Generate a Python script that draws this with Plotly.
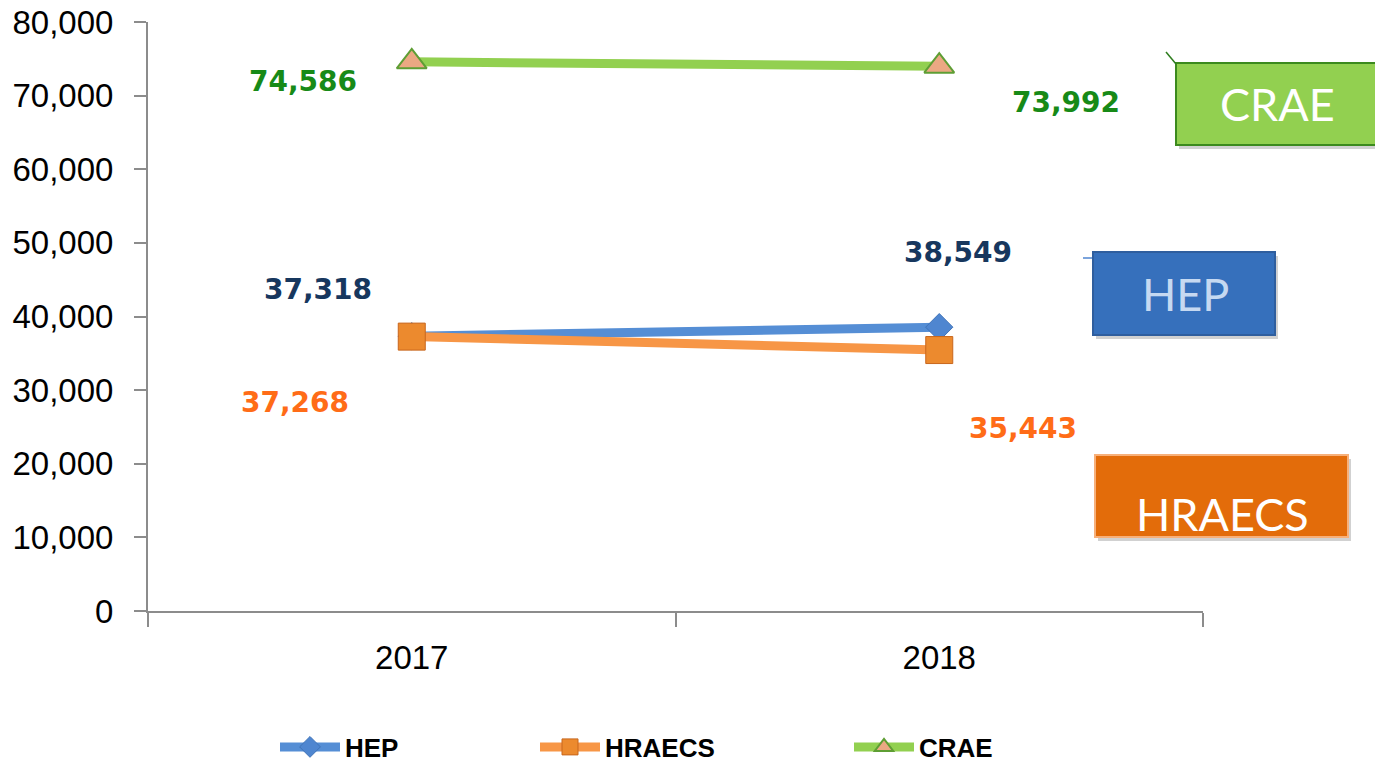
import plotly.graph_objects as go

years = ["2017", "2018"]
hep = [37318, 38549]
hraecs = [37268, 35443]
crae = [74586, 73992]

y_ticks = [0, 10000, 20000, 30000, 40000, 50000, 60000, 70000, 80000]

# the page body has an 8px margin, so shift everything up/left by that much
OFF = 8
L, R, T, B = 148 - OFF, 1203 - OFF, 22 - OFF, 611 - OFF
W, H = 1383, 764


def px(x):
    return (x - OFF - L) / (R - L)


def py(y):
    return (B - (y - OFF)) / (B - T)


fig = go.Figure()

fig.add_trace(go.Scatter(
    x=years, y=hep, name="HEP", mode="lines+markers",
    line=dict(color="#558ED5", width=9),
    marker=dict(symbol="diamond", size=21, color="#4F86D0",
                line=dict(color="#3F73B8", width=1)),
    legend="legend",
))
fig.add_trace(go.Scatter(
    x=years, y=hraecs, name="HRAECS", mode="lines+markers",
    line=dict(color="#F79646", width=9),
    marker=dict(symbol="square", size=27, color="#EC8A2E",
                line=dict(color="#C8661C", width=1)),
    legend="legend2",
))
fig.add_trace(go.Scatter(
    x=years, y=crae, name="CRAE", mode="lines+markers",
    line=dict(color="#92D050", width=9),
    marker=dict(symbol="triangle-up", size=26, color="#EBA883",
                line=dict(color="#5E9E34", width=2)),
    legend="legend3",
))

# data labels (placed like in the source slide)
labels = [
    (0, crae[0], -109, -20, "#178A17"),
    (1, crae[1], 127, -36, "#178A17"),
    (0, hep[0], -94, 47, "#17375E"),
    (1, hep[1], 19, 75, "#17375E"),
    (0, hraecs[0], -117, -66, "#FF6C17"),
    (1, hraecs[1], 84, -78, "#FF6C17"),
]
for xi, yv, dx, dy, col in labels:
    fig.add_annotation(
        x=xi, y=yv, xref="x", yref="y", text=f"{yv:,}", showarrow=False,
        xshift=dx, yshift=dy,
        font=dict(family="DejaVu Sans", size=28, color=col, weight="bold"),
    )

# name boxes at the right: box pixels, text centre, colours
boxes = [
    ("CRAE", (1176, 63, 1379, 145), (1277, 104), "#92D050", "#3C8A1E", "white"),
    ("HEP", (1093, 252, 1275, 335), (1185, 294), "#3670BC", "#2F5E9E", "#C6D9F1"),
    ("HRAECS", (1095, 455, 1348, 537), (1222, 514), "#E36C0A", "#F7B07A", "white"),
]
for txt, (x0, y0, x1, y1), (tx, ty), fill, border, tcol in boxes:
    fig.add_shape(type="rect", xref="paper", yref="paper",
                  x0=px(x0 + 3), x1=px(x1 + 3), y0=py(y1 + 4), y1=py(y0 + 4),
                  fillcolor="rgba(0,0,0,0.18)", line_width=0, layer="above")
    fig.add_shape(type="rect", xref="paper", yref="paper",
                  x0=px(x0), x1=px(x1), y0=py(y1), y1=py(y0),
                  fillcolor=fill, line=dict(color=border, width=2), layer="above")
    fig.add_annotation(
        xref="paper", yref="paper", x=px(tx), y=py(ty),
        xanchor="center", yanchor="middle", text=txt, showarrow=False,
        font=dict(family="Lato", size=45, color=tcol),
    )

# small leader lines
fig.add_shape(type="line", xref="paper", yref="paper",
              x0=px(1166), y0=py(52), x1=px(1176), y1=py(64),
              line=dict(color="#2E7D1E", width=1.5))
fig.add_shape(type="line", xref="paper", yref="paper",
              x0=px(1083), y0=py(258), x1=px(1092), y1=py(258),
              line=dict(color="#4F86D0", width=1.5))

leg_font = dict(family="Liberation Sans", size=26, color="black", weight="bold")
leg_common = dict(orientation="h", yanchor="middle", y=py(747), xanchor="left",
                  font=leg_font, bgcolor="rgba(0,0,0,0)", itemwidth=60)

tick_font = dict(family="Liberation Sans", size=33, color="black")

fig.update_layout(
    width=W, height=H,
    paper_bgcolor="white", plot_bgcolor="rgba(0,0,0,0)",
    margin=dict(l=L, r=W - R, t=T, b=H - B, autoexpand=False),
    showlegend=True,
    legend=dict(x=px(275), **leg_common),
    legend2=dict(x=px(535), **leg_common),
    legend3=dict(x=px(849), **leg_common),
    xaxis=dict(
        type="category", range=[-0.5, 1.5], tickson="boundaries",
        showline=True, linecolor="#8C8C8C", linewidth=2,
        ticks="outside", ticklen=14, tickcolor="#8C8C8C", tickwidth=1.5,
        showgrid=False, zeroline=False, automargin=False,
        tickfont=tick_font, ticklabelstandoff=16,
    ),
    yaxis=dict(
        range=[0, 80000], tickvals=y_ticks, tickformat=",d",
        showline=True, linecolor="#8C8C8C", linewidth=2,
        ticks="outside", ticklen=12, tickcolor="#8C8C8C", tickwidth=1.5,
        showgrid=False, zeroline=False, automargin=False,
        tickfont=tick_font, ticklabelstandoff=14, ticklabeloverflow="allow",
    ),
)

fig.write_html("out.html")
